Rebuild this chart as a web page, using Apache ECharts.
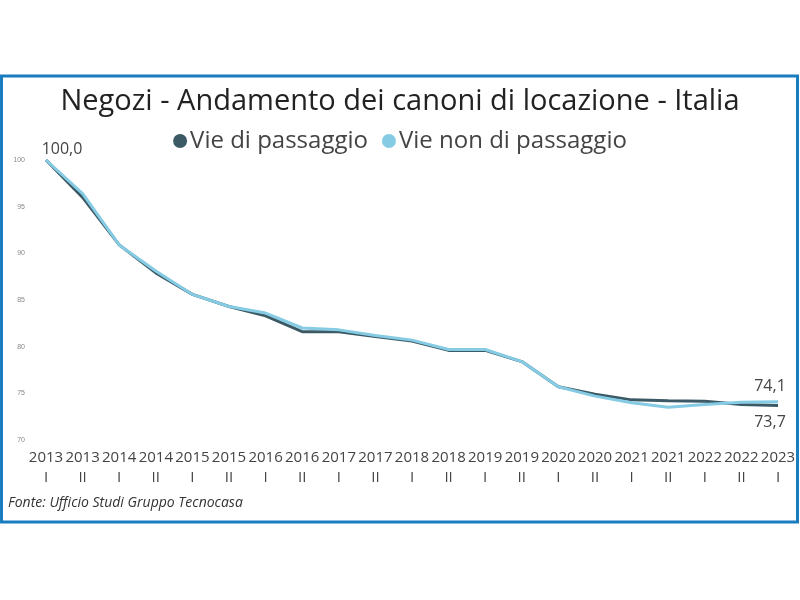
<!DOCTYPE html>
<html><head><meta charset="utf-8">
<script src="https://cdn.jsdelivr.net/npm/echarts@6/dist/echarts.min.js"></script>
<style>html,body{margin:0;padding:0;background:#fff}#c{width:800px;height:600px}</style>
</head><body><div id="c"></div>
<script>
const years = ['2013','2013','2014','2014','2015','2015','2016','2016','2017','2017','2018','2018','2019','2019','2020','2020','2021','2021','2022','2022','2023'];
const semesters = ['I','II','I','II','I','II','I','II','I','II','I','II','I','II','I','II','I','II','I','II','I'];
const categories = years.map((y, i) => y + '\n' + semesters[i]);
const viePassaggio = [100.0, 96.0, 90.9, 87.9, 85.6, 84.3, 83.3, 81.6, 81.6, 81.1, 80.6, 79.6, 79.6, 78.4, 75.7, 74.9, 74.3, 74.2, 74.15, 73.8, 73.7];
const vieNonPassaggio = [100.0, 96.4, 90.9, 88.1, 85.6, 84.3, 83.6, 82.0, 81.8, 81.2, 80.7, 79.7, 79.7, 78.4, 75.7, 74.7, 74.0, 73.5, 73.8, 74.05, 74.1];
const yTicks = [70, 75, 80, 85, 90, 95, 100];

const fmt = v => v.toFixed(1).replace('.', ',');
const last = categories.length - 1;
const hidden = { show: false };
const s0 = viePassaggio.map((v, i) => {
  if (i === 0) return { value: v, label: { show: true, position: 'top', offset: [16, 2] } };
  if (i === last) return { value: v, label: { show: true, position: 'bottom', offset: [-8, 4] } };
  return { value: v, label: hidden };
});
const s1 = vieNonPassaggio.map((v, i) => {
  if (i === last) return { value: v, label: { show: true, position: 'top', offset: [-8, -2] } };
  return { value: v, label: hidden };
});
const labelStyle = {
  show: false, fontFamily: 'Open Sans', fontSize: 16, color: '#444',
  formatter: p => fmt(p.value)
};
const chart = echarts.init(document.getElementById('c'));
chart.setOption({
  backgroundColor: '#fff',
  animation: false,
  title: {
    text: 'Negozi - Andamento dei canoni di locazione - Italia',
    left: 'center', top: 82,
    textStyle: { fontFamily: 'Open Sans', fontSize: 29, fontWeight: 'normal', color: '#222' }
  },
  legend: {
    top: 124, left: 'center', itemGap: 14,
    icon: 'circle', itemWidth: 14, itemHeight: 14,
    textStyle: { fontFamily: 'Open Sans', fontSize: 24, color: '#444', padding: [0, 0, 0, -2] },
    data: ['Vie di passaggio', 'Vie non di passaggio']
  },
  graphic: [
    { type: 'rect', shape: { x: 1.5, y: 76, width: 796, height: 446 }, style: { fill: 'none', stroke: '#1a7dc0', lineWidth: 3 }, z: 100 },
    { type: 'text', left: 8, top: 496, style: { text: 'Fonte: Ufficio Studi Gruppo Tecnocasa', font: 'italic 14px "Open Sans"', fill: '#333' } }
  ],
  grid: { left: 46, right: 22, top: 160, bottom: 160 },
  xAxis: {
    type: 'category', data: categories, boundaryGap: false,
    axisLine: { show: false }, axisTick: { show: false },
    axisLabel: { interval: 0, fontFamily: 'Open Sans', fontSize: 15, color: '#444', lineHeight: 20, margin: 8 }
  },
  yAxis: {
    type: 'value', min: yTicks[0], max: yTicks[yTicks.length - 1], interval: 5,
    splitLine: { show: false }, axisLine: { show: false }, axisTick: { show: false },
    axisLabel: { fontSize: 7, color: '#888', margin: 21 }
  },
  series: [
    {
      name: 'Vie di passaggio', type: 'line', data: s0,
      symbol: 'circle', symbolSize: 0, showSymbol: true,
      lineStyle: { width: 3, color: '#3b5a66' }, itemStyle: { color: '#3b5a66' },
      label: labelStyle, z: 2
    },
    {
      name: 'Vie non di passaggio', type: 'line', data: s1,
      symbol: 'circle', symbolSize: 0, showSymbol: true,
      lineStyle: { width: 3, color: '#84cbe3' }, itemStyle: { color: '#84cbe3' },
      label: labelStyle, z: 3
    }
  ]
});
</script></body></html>
